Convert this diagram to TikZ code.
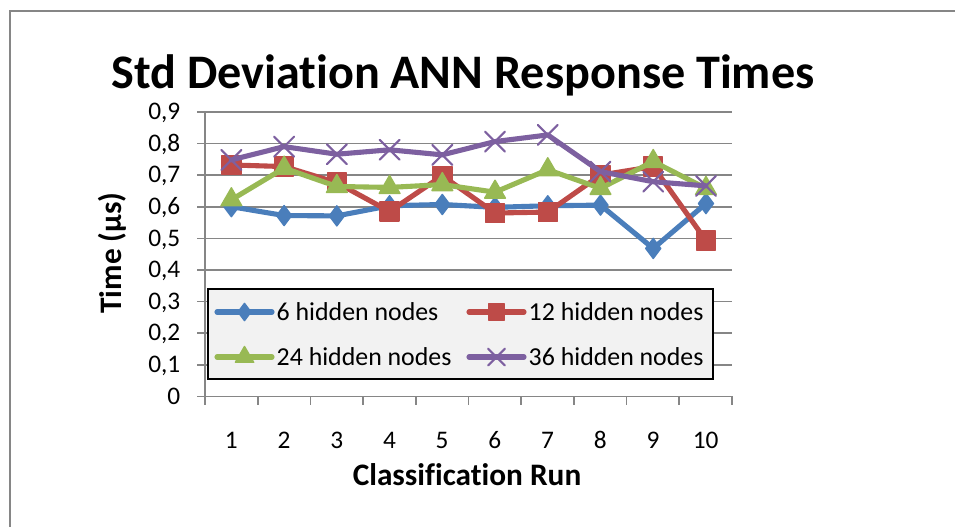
\documentclass[tikz,border=0pt]{standalone}
\usepackage{fontspec}
\setmainfont{Carlito}[Ligatures=NoCommon]
\usetikzlibrary{plotmarks}

\definecolor{gridgray}{HTML}{868686}
\definecolor{seriesblue}{HTML}{4A7EBB}
\definecolor{seriesred}{HTML}{BE4B48}
\definecolor{seriesgreen}{HTML}{98B954}
\definecolor{seriespurple}{HTML}{7D60A0}
\definecolor{legendfill}{HTML}{F2F2F2}

\tikzset{
  gridline/.style={gridgray, line width=0.5pt},
  series/.style={line width=1.45pt, line join=round, line cap=round},
  sixnodes/.style={series, seriesblue, mark=diamond*, mark size=2.85pt, mark options={solid, line width=0.4pt}},
  twelvenodes/.style={series, seriesred, mark=square*, mark size=2.7pt, mark options={solid, line width=0.4pt}},
  twentyfournodes/.style={series, seriesgreen, mark=triangle*, mark size=3.4pt, mark options={solid, line width=0.4pt}},
  thirtysixnodes/.style={series, seriespurple, mark=x, mark size=4pt, mark options={solid, line width=0.6pt}},
  ticklabel/.style={font=\fontsize{7.2}{9}\selectfont, inner sep=0pt},
  legendlabel/.style={font=\fontsize{7.35}{9}\selectfont, inner sep=0pt, anchor=base west},
  axistitle/.style={font=\bfseries\fontsize{8.9}{10}\selectfont, inner sep=0pt},
}

\begin{document}
\begin{tikzpicture}[x=0.01cm, y=-0.01cm]
\useasboundingbox (0,0) rectangle (955,526);
\draw[gridgray, line width=0.6pt] (10,530) -- (10,11) -- (960,11);

% Titles
\node[font=\bfseries\fontsize{13.7}{16}\selectfont, inner sep=0pt, anchor=base] (title) at (463,88) {Std Deviation ANN Response Times};
\node[axistitle, rotate=90, anchor=base] (ytitle) at (121,253) {Time (µs)};
\node[axistitle, anchor=base] (xtitle) at (467,485) {Classification Run};

% Value axis with gridlines
\foreach \v in {1,...,9}
  \draw[gridline] (197,{396.4-31.6*\v}) -- (732,{396.4-31.6*\v});
\foreach \v/\t in {0/0, 1/{0,1}, 2/{0,2}, 3/{0,3}, 4/{0,4}, 5/{0,5}, 6/{0,6}, 7/{0,7}, 8/{0,8}, 9/{0,9}}
  \node[ticklabel, anchor=base east] (ylab\v) at (181,{404-31.6*\v}) {\t};
\draw[gridline] (205,112) -- (205,396.4);

% Category axis
\draw[gridline] (197,396.4) -- (732,396.4);
\foreach \k in {0,...,10}
  \draw[gridline] ({205+52.7*\k},396.4) -- ({205+52.7*\k},405);
\foreach \k in {1,...,10}
  \node[ticklabel, anchor=base] (xlab\k) at ({205+52.7*(\k-0.5)},448) {\k};

% Legend
\draw[black, fill=legendfill, line width=0.6pt] (208,289) rectangle (713,379);
\draw[sixnodes, mark size=2.45pt, mark indices={2}] plot coordinates {(217,312) (244.5,312) (272,312)};
\node[legendlabel] (leg6) at (276,320) {6 hidden nodes};
\draw[twelvenodes, mark size=2.3pt, mark indices={2}] plot coordinates {(469,312) (496.5,312) (524,312)};
\node[legendlabel] (leg12) at (528,320) {12 hidden nodes};
\draw[twentyfournodes, mark size=3pt, mark indices={2}] plot coordinates {(217,357) (244.5,357) (272,357)};
\node[legendlabel] (leg24) at (276,365) {24 hidden nodes};
\draw[thirtysixnodes, mark size=3.4pt, mark indices={2}] plot coordinates {(469,357) (496.5,357) (524,357)};
\node[legendlabel] (leg36) at (528,365) {36 hidden nodes};

% Series, one per hidden layer size
\begin{scope}[shift={(178.65,396.4)}, x=0.527cm, y=3.16cm]
\draw[sixnodes] plot coordinates {(1,0.600) (2,0.572) (3,0.571) (4,0.603) (5,0.607) (6,0.598) (7,0.603) (8,0.605) (9,0.468) (10,0.610)};
\draw[twelvenodes] plot coordinates {(1,0.732) (2,0.727) (3,0.676) (4,0.585) (5,0.698) (6,0.580) (7,0.583) (8,0.700) (9,0.727) (10,0.493)};
\draw[twentyfournodes] plot coordinates {(1,0.622) (2,0.722) (3,0.664) (4,0.661) (5,0.670) (6,0.646) (7,0.717) (8,0.658) (9,0.743) (10,0.658)};
\draw[thirtysixnodes] plot coordinates {(1,0.748) (2,0.790) (3,0.766) (4,0.780) (5,0.764) (6,0.806) (7,0.827) (8,0.711) (9,0.679) (10,0.666)};
\end{scope}
\end{tikzpicture}
\end{document}
